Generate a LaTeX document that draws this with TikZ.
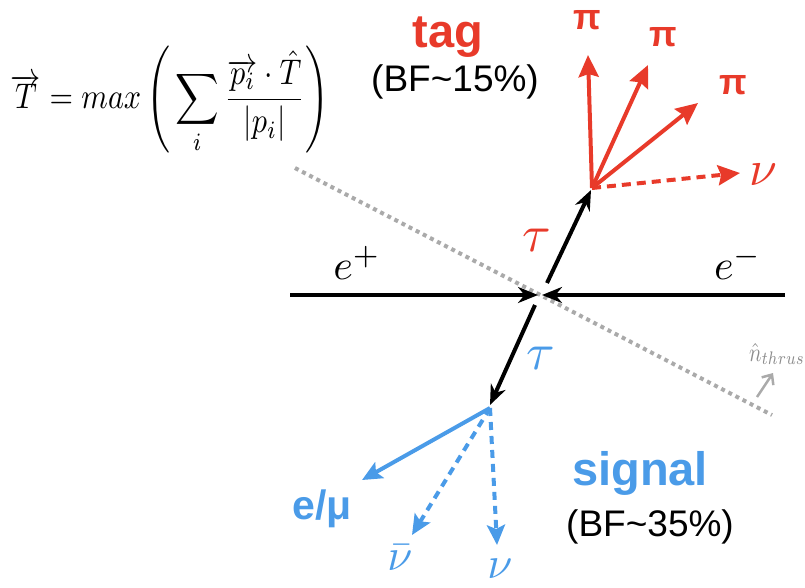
\documentclass[tikz,border=0pt]{standalone}
\usepackage{fontspec}
\usepackage{graphicx}
\usetikzlibrary{arrows.meta}
\newfontfamily\sansb{Liberation Sans}
\definecolor{tagred}{RGB}{232,58,42}
\definecolor{sigblue}{RGB}{74,155,232}
\definecolor{thrgray}{RGB}{170,170,170}
\definecolor{thrtext}{RGB}{140,140,140}
\newcommand{\mlabtxt}[2]{\scalebox{#1}{$#2$}}
\begin{document}
\begin{tikzpicture}[x=1pt,y=-1pt,
  beam/.style={line width=4pt, black, -{Stealth[length=20pt,width=16pt]}},
  redarr/.style={line width=4pt, tagred, -{Stealth[length=22pt,width=20pt,inset=3pt]}},
  reddash/.style={redarr, dash pattern=on 9pt off 6pt},
  bluearr/.style={line width=4pt, sigblue, -{Stealth[length=20pt,width=18pt,inset=4pt]}},
  bluedash/.style={bluearr, dash pattern=on 8pt off 6pt},
  thrust/.style={thrgray, line width=4pt, dash pattern=on 4pt off 4pt},
  narrow/.style={thrgray, line width=2.5pt, -{Straight Barb[length=8pt,width=14pt]}},
  bigword/.style={font=\sansb\bfseries\fontsize{47}{47}\selectfont, inner sep=0pt},
  bftext/.style={font=\sansb\fontsize{37}{37}\selectfont, inner sep=0pt, text=black},
  pilab/.style={font=\sansb\bfseries\fontsize{36}{36}\selectfont, inner sep=0pt, text=tagred},
  mathlab/.style={inner sep=0pt}
]
\useasboundingbox (0,0) rectangle (805,587);

% formula
\node[inner sep=0pt] (formula) at (170,100) {\resizebox*{318pt}{108pt}{$\displaystyle \overrightarrow{T} = max\left(\,\sum_i \frac{\overrightarrow{p_i}\cdot\hat{T}}{|p_i|}\right)$}};

% thrust axis
\coordinate (th1) at (295,168);
\coordinate (th2) at (772,415);
\draw[thrust] (th1) -- (th2);
\coordinate (na) at (757,397);
\coordinate (nb) at (773,373);
\draw[narrow] (na) -- (nb);
\node[mathlab, text=thrtext] (nthr) at (777,354) {\scalebox{2.1}[2.6]{$\hat{n}_{thrus}$}};

% beams
\coordinate (lend) at (290,295);
\coordinate (rend) at (785,295);
\coordinate (ctl) at (538,295);
\coordinate (ctr) at (542,295);
\draw[beam] (lend) -- (ctl);
\draw[beam] (rend) -- (ctr);
\node[mathlab] (ep) at (357,263) {\mlabtxt{4.2}{e^+}};
\node[mathlab] (em) at (738,263) {\mlabtxt{4.2}{e^-}};

% taus
\coordinate (t0) at (547,283);
\coordinate (tv) at (591,190);
\coordinate (s0) at (535,305);
\coordinate (sv) at (490,405);
\draw[beam] (t0) -- (tv);
\draw[beam] (s0) -- (sv);
\node[mathlab, text=tagred] (taut) at (537,240) {\mlabtxt{5.2}{\tau}};
\node[mathlab, text=sigblue] (taus) at (541,358) {\mlabtxt{5.2}{\tau}};

% tag side
\coordinate (tagv) at (592,188);
\coordinate (p1) at (588,55);
\coordinate (p2) at (648,65);
\coordinate (p3) at (698,103);
\coordinate (nt) at (740,173);
\draw[redarr] (tagv) -- (p1);
\draw[redarr] (tagv) -- (p2);
\draw[redarr] (tagv) -- (p3);
\draw[reddash] (tagv) -- (nt);
\node[pilab] (pi1) at (587,20) {π};
\node[pilab] (pi2) at (663,37) {π};
\node[pilab] (pi3) at (733,85) {π};
\node[mathlab, text=tagred] (nutag) at (763,175) {\mlabtxt{5.0}{\nu}};
\node[bigword, text=tagred] (tagl) at (448,37) {tag};
\node[bftext] (bf15) at (455,82) {(BF\textasciitilde 15\%)};

% signal side
\coordinate (sigv) at (490,408);
\coordinate (lep) at (362,480);
\coordinate (nbar) at (412,535);
\coordinate (nsig) at (497,545);
\draw[bluearr] (sigv) -- (lep);
\draw[bluedash] (sigv) -- (nbar);
\draw[bluedash] (sigv) -- (nsig);
\node[font=\sansb\bfseries\fontsize{41}{41}\selectfont, text=sigblue, inner sep=0pt] (lepl) at (322,509) {e/μ};
\node[mathlab, text=sigblue] (nbarl) at (400,558) {\mlabtxt{4.5}{\bar{\nu}}};
\node[mathlab, text=sigblue] (nsigl) at (500,569) {\mlabtxt{4.5}{\nu}};
\node[bigword, text=sigblue] (sigl) at (640,473) {signal};
\node[bftext] (bf35) at (650,527) {(BF\textasciitilde 35\%)};
\end{tikzpicture}
\end{document}
